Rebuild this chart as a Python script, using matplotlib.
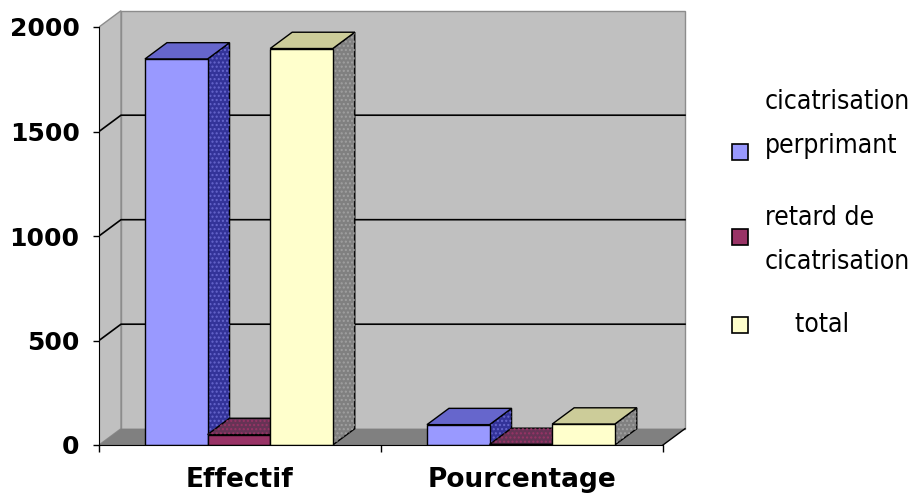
import matplotlib
matplotlib.use("Agg")
import matplotlib.pyplot as plt
from matplotlib.patches import Polygon, Rectangle

# données
categories = ["Effectif", "Pourcentage"]
series = ["cicatrisation\nperprimant", "retard de\ncicatrisation", "    total"]
perprimant = [1847, 97.4]
retard = [50, 2.6]
total = [1897, 100]
yticks = [0, 500, 1000, 1500, 2000]

values = [perprimant, retard, total]
front_colors = ["#9999FF", "#993366", "#FFFFCC"]
top_colors = ["#6666CC", "#663355", "#CCCC99"]
side_colors = ["#333399", "#663355", "#808080"]
dot_colors = ["#6666CC", "#993366", "#A0A0A0"]

DX, DY = 0.078, 78   # profondeur 3D (unités x, unités y)
W = 0.222            # largeur d'une barre
OFF = 0.163          # marge gauche dans un groupe

fig = plt.figure(figsize=(9.15, 4.97), dpi=100)
ax = fig.add_axes([99 / 915, 52 / 497, 600 / 915, 437 / 497])
ax.set_xlim(-0.5, -0.5 + 600 / 282)
ax.set_ylim(0, 437 / 0.209)

# murs et sol
ax.add_patch(Polygon([(-0.5 + DX, DY), (1.5 + DX, DY), (1.5 + DX, 2000 + DY), (-0.5 + DX, 2000 + DY)],
                     closed=True, facecolor="#C0C0C0", edgecolor="#8C8C8C", lw=1, zorder=0))
ax.add_patch(Polygon([(-0.5, 0), (-0.5 + DX, DY), (-0.5 + DX, 2000 + DY), (-0.5, 2000)],
                     closed=True, facecolor="#C0C0C0", edgecolor="#8C8C8C", lw=1, zorder=0))
ax.add_patch(Polygon([(-0.5, 0), (1.5, 0), (1.5 + DX, DY), (-0.5 + DX, DY)],
                     closed=True, facecolor="#808080", edgecolor="none", zorder=0.5))
ax.plot([1.5, 1.5 + DX], [0, DY], color="black", lw=1, zorder=1)

# quadrillage
for v in yticks[1:-1]:
    ax.plot([-0.5, -0.5 + DX, 1.5 + DX], [v, v + DY, v + DY], color="black", lw=1.2, zorder=1)

# barres 3D
for j in range(len(categories)):
    for i in range(len(series)):
        h = values[i][j]
        x0 = j - 0.5 + OFF + i * W
        x1 = x0 + W
        side = [(x1, 0), (x1 + DX, DY), (x1 + DX, h + DY), (x1, h)]
        top = [(x0, h), (x1, h), (x1 + DX, h + DY), (x0 + DX, h + DY)]
        z = 2 + j * 3 + i
        ax.add_patch(Polygon(side, closed=True, facecolor=side_colors[i], edgecolor="black", lw=1, zorder=z))
        ax.add_patch(Polygon(side, closed=True, fill=False, hatch="....", edgecolor=dot_colors[i], lw=0, zorder=z))
        ax.add_patch(Polygon(top, closed=True, facecolor=top_colors[i], edgecolor="black", lw=1, zorder=z))
        ax.add_patch(Polygon(top, closed=True, fill=False, hatch="...." if i == 1 else None,
                             edgecolor=dot_colors[i], lw=0, zorder=z))
        ax.add_patch(Rectangle((x0, 0), W, h, facecolor=front_colors[i], edgecolor="black", lw=1, zorder=z))

# axes
for s in ["top", "right"]:
    ax.spines[s].set_visible(False)
ax.spines["left"].set_bounds(0, 2000)
ax.spines["bottom"].set_bounds(-0.5, 1.5)
ax.spines["left"].set_zorder(20)
ax.spines["bottom"].set_zorder(20)
ax.set_yticks(yticks)
ax.set_yticklabels([str(v) for v in yticks], fontsize=18, fontweight="bold", family="DejaVu Sans")
ax.tick_params(axis="y", length=4, width=1, pad=10)
ax.set_xticks(range(len(categories)))
ax.set_xticklabels(categories, fontsize=19, fontweight="bold", family="DejaVu Sans")
ax.set_xticks([-0.5, 0.5, 1.5], minor=True)
ax.tick_params(axis="x", which="major", length=0, pad=16)
ax.tick_params(axis="x", which="minor", length=5, width=1)

# légende
legend_text_y = [124, 240, 325]
legend_box_y = [152, 237, 325]
for i, name in enumerate(series):
    fig.add_artist(Rectangle((732 / 915, 1 - (legend_box_y[i] + 8) / 497), 16 / 915, 16 / 497,
                             facecolor=front_colors[i], edgecolor="black", lw=1.2))
    fig.text(765 / 915, 1 - legend_text_y[i] / 497, name, fontsize=19, va="center", ha="left",
             linespacing=1.9, family="DejaVu Sans", fontstretch="condensed")

fig.savefig("out.png", dpi=100, facecolor="white")
